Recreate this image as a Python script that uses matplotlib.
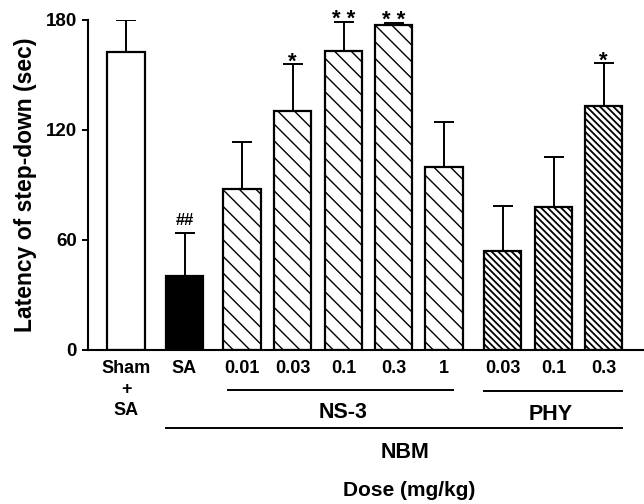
import matplotlib
matplotlib.use("Agg")
import matplotlib.pyplot as plt
import matplotlib.transforms as mtransforms
from matplotlib.lines import Line2D

plt.rcParams['font.family'] = ['Liberation Sans', 'DejaVu Sans']
plt.rcParams['font.weight'] = 'bold'

# ---- data ----
groups = ["Sham\n+\nSA", "SA", "0.01", "0.03", "0.1", "0.3", "1", "0.03", "0.1", "0.3"]
means = [162.7, 40.5, 87.8, 130.4, 163.3, 177.3, 99.6, 54.2, 77.8, 133.1]
sems = [17.3, 23.1, 25.5, 25.4, 15.8, 1.2, 24.9, 24.5, 27.3, 23.3]
marks = ["", "##", "", "*", "* *", "* *", "", "", "", "*"]
kinds = ["sham", "sa", "ns3", "ns3", "ns3", "ns3", "ns3", "phy", "phy", "phy"]
yticks = [0, 60, 120, 180]

# layout (bar centres, in bar-spacing units)
positions = [2.52, 3.69, 4.84, 5.85, 6.87, 7.87, 8.88, 10.05, 11.07, 12.07]
width = 0.75

W, H = 644, 504
fig = plt.figure(figsize=(W / 100, H / 100), dpi=100)
ax = fig.add_axes([88 / W, 1 - 350 / H, (W - 88) / W, 330 / H])

styles = {
    "sham": dict(color="white", hatch=None),
    "sa": dict(color="black", hatch=None),
    "ns3": dict(color="white", hatch="\\\\"),
    "phy": dict(color="white", hatch="\\\\\\\\\\"),
}

for x, m, s, k, mk in zip(positions, means, sems, kinds, marks):
    st = styles[k]
    b = ax.bar(x, m, width=width, color=st["color"], edgecolor="black",
               linewidth=1.6, hatch=st["hatch"], zorder=2)
    if k == "phy":
        for p in b.patches:
            if hasattr(p, "set_hatch_linewidth"):
                p.set_hatch_linewidth(1.3)
    ax.errorbar(x, m, yerr=[[0], [s]], fmt="none", ecolor="black",
                elinewidth=1.4, capsize=7.5, capthick=1.4, zorder=3)
    if mk == "##":
        ax.annotate(mk, xy=(x, m + s), xytext=(0, 4),
                    textcoords="offset points", ha="center", va="bottom",
                    fontsize=12, fontweight="bold")
    elif mk:
        ax.annotate(mk, xy=(x, m + s), xytext=(0, -6),
                    textcoords="offset points", ha="center", va="bottom",
                    fontsize=16, fontweight="bold")

ax.set_xlim(88 / 50, W / 50)
ax.set_ylim(0, 180)
ax.set_yticks(yticks)
ax.set_yticklabels([str(v) for v in yticks], fontsize=13.5, fontweight="bold")
ax.set_xticks(positions)
ax.set_xticklabels(groups, fontsize=13, fontweight="bold", linespacing=1.3)
ax.tick_params(axis="x", length=0, pad=7)
ax.tick_params(axis="y", direction="out", length=4, width=1.4, pad=4)
for sp in ["top", "right"]:
    ax.spines[sp].set_visible(False)
for sp in ["left", "bottom"]:
    ax.spines[sp].set_linewidth(1.5)

ax.set_ylabel("Latency of step-down (sec)", fontsize=16.5, fontweight="bold", labelpad=6)

# group brackets (x in data, y in figure)
tr = mtransforms.blended_transform_factory(ax.transData, fig.transFigure)
def fy(py):
    return 1 - py / H

def hline(x0, x1, py):
    ax.add_line(Line2D([x0, x1], [fy(py), fy(py)], transform=tr, color="black",
                       linewidth=1.4, clip_on=False))

hw = width / 2
hline(positions[2] - hw + 0.1, positions[6] - hw + 0.55, 390)
hline(positions[7] - hw, positions[9] + hw, 391)
hline(positions[1] - hw, positions[9] + hw, 428)

ax.text(positions[4], fy(412), "NS-3", transform=tr,
        ha="center", va="center", fontsize=15.5, fontweight="bold")
ax.text(positions[8] - 0.05, fy(414), "PHY", transform=tr,
        ha="center", va="center", fontsize=15.5, fontweight="bold")
ax.text(405 / 50, fy(452), "NBM", transform=tr,
        ha="center", va="center", fontsize=15.5, fontweight="bold")
ax.text(409 / 50, fy(490), "Dose (mg/kg)", transform=tr,
        ha="center", va="center", fontsize=15, fontweight="bold")

fig.savefig("out.png", dpi=100)
